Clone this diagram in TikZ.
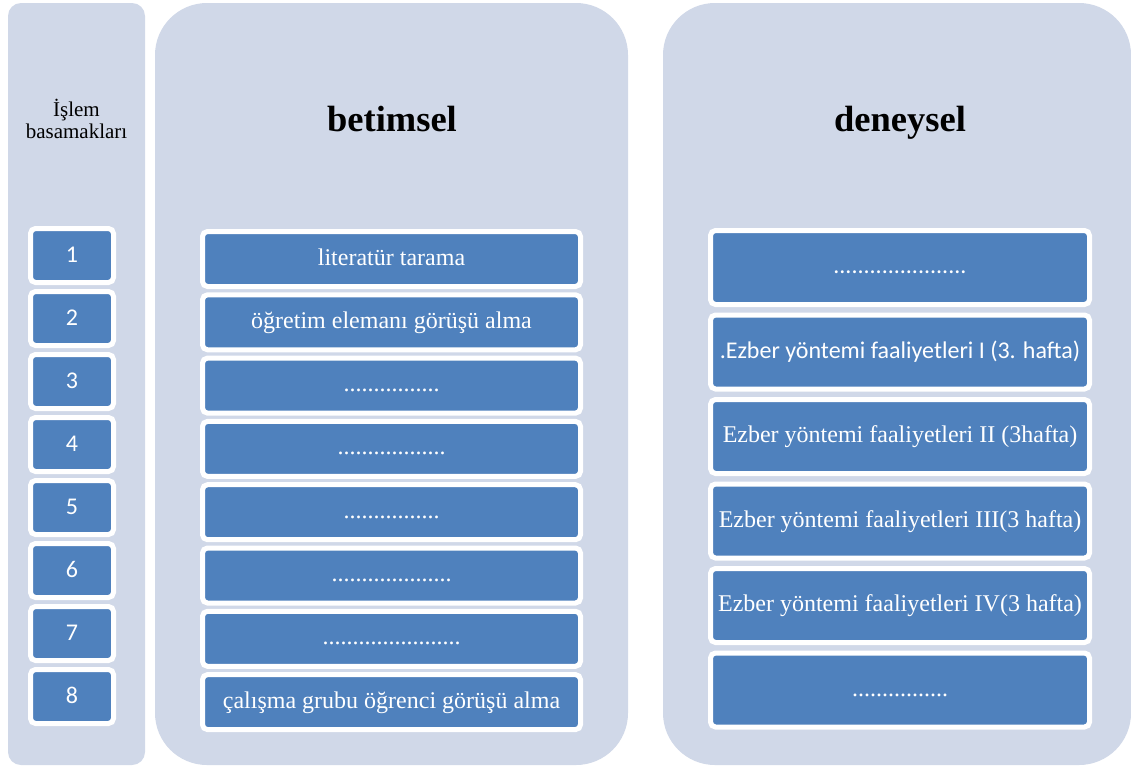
\documentclass[tikz,border=0pt]{standalone}
\usepackage{fontspec}
\setmainfont{Liberation Serif}
\newfontfamily\calibri{Carlito}
\definecolor{colbg}{HTML}{D0D8E8}
\definecolor{boxblue}{HTML}{4F81BD}
\begin{document}
\begin{tikzpicture}[x=1pt,y=-1pt,
  colshape/.style={fill=colbg, draw=none, inner sep=0pt, outer sep=0pt},
  bluebox/.style={fill=boxblue, draw=white, line width=5pt, rounded corners=5pt, inner sep=0pt, text=white, text height=17pt, text depth=5pt},
  numbox/.style={bluebox, minimum width=83pt, minimum height=54pt, text depth=3pt, font=\calibri\fontsize{24}{28}\selectfont},
  midbox/.style={bluebox, minimum width=378pt, minimum height=55pt, font=\fontsize{24}{28}\selectfont},
  rightbox/.style={bluebox, minimum width=379pt, minimum height=74pt, font=\fontsize{24}{28}\selectfont},
  titletext/.style={font=\bfseries\fontsize{36.5}{40}\selectfont, inner sep=0pt, anchor=base}
]
\useasboundingbox[fill=white] (0,0) rectangle (1131,766);
% columns
\node[colshape, rounded corners=13pt, minimum width=137pt, minimum height=762pt] (colA) at (76.5,384) {};
\node[colshape, rounded corners=52pt, minimum width=473pt, minimum height=762pt] (colB) at (391.5,384) {};
\node[colshape, rounded corners=52pt, minimum width=468pt, minimum height=762pt] (colC) at (897,384) {};
% headers
\node[align=center, inner sep=0pt, font=\fontsize{21}{22}\selectfont] (hA) at (76.5,119) {İşlem\\basamakları};
\node[titletext] (hB) at (392,131) {betimsel};
\node[titletext] (hC) at (900,131) {deneysel};
% left number boxes
\foreach \k in {1,...,8} {
  \node[numbox] (n\k) at (72,{255.5+63*(\k-1)}) {\k};
}
% middle boxes
\node[midbox] (m1) at (391.5,259) {literatür tarama};
\node[midbox] (m2) at (391.5,322.3) {öğretim elemanı görüşü alma};
\node[midbox] (m3) at (391.5,385.6) {................};
\node[midbox] (m4) at (391.5,448.9) {..................};
\node[midbox] (m5) at (391.5,512.2) {................};
\node[midbox] (m6) at (391.5,575.5) {....................};
\node[midbox] (m7) at (391.5,638.8) {.......................};
\node[midbox] (m8) at (391.5,702.1) {çalışma grubu öğrenci görüşü alma};
% right boxes
\node[rightbox, font=\calibri\fontsize{24}{28}\selectfont] (r1) at (900,267.5) {......................};
\node[rightbox, font=\calibri\fontsize{24}{28}\selectfont] (r2) at (900,352) {.Ezber yöntemi faaliyetleri I (3. hafta)};
\node[rightbox] (r3) at (900,436.5) {Ezber yöntemi faaliyetleri II (3hafta)};
\node[rightbox] (r4) at (900,521) {Ezber yöntemi faaliyetleri III(3 hafta)};
\node[rightbox] (r5) at (900,605.5) {Ezber yöntemi faaliyetleri IV(3 hafta)};
\node[rightbox] (r6) at (900,690) {................};
\end{tikzpicture}
\end{document}
